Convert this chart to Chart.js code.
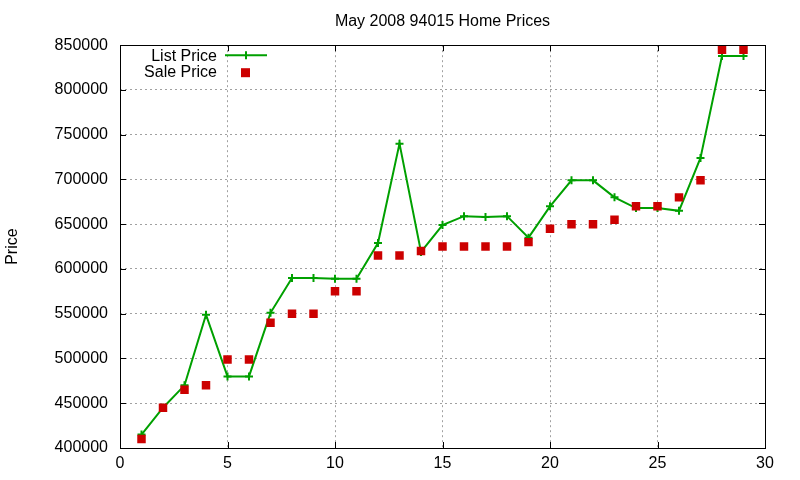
<!DOCTYPE html>
<html>
<head>
<meta charset="utf-8">
<title>May 2008 94015 Home Prices</title>
<script src="https://cdn.jsdelivr.net/npm/chart.js@4/dist/chart.umd.min.js"></script>
<style>
  html, body { margin: 0; padding: 0; background: #fff; }
  #wrap { width: 800px; height: 480px; }
</style>
</head>
<body>
<div id="wrap"><canvas id="myCanvas" width="800" height="480"></canvas></div>
<script>
// data
var houseNum = [1, 2, 3, 4, 5, 6, 7, 8, 9, 10, 11, 12, 13, 14, 15, 16, 17, 18, 19, 20, 21, 22, 23, 24, 25, 26, 27, 28, 29];
var listPrice = [415000, 445000, 470000, 549000, 480000, 480000, 551000, 590000, 590000, 589000,
                 589000, 629000, 740000, 619000, 649000, 659000, 658000, 659000, 635000, 670000,
                 699000, 699000, 680000, 668000, 668000, 665000, 724000, 838000, 838000];
var salePrice = [410000, 445000, 465000, 470000, 499000, 499000, 540000, 550000, 550000, 575000,
                 575000, 615000, 615000, 620000, 625000, 625000, 625000, 625000, 630000, 645000,
                 650000, 650000, 655000, 670000, 670000, 680000, 699000, 845000, 845000];
var seriesNames = ["List Price", "Sale Price"];
var chartTitle = "May 2008 94015 Home Prices";
var yTitle = "Price";

var FONT = "'Liberation Sans', Arial, sans-serif";
var MIDA = 16;
var verd = "#00a000";
var vermell = "#cc0000";

function punts(xs, ys) {
    var r = [];
    for (var i = 0; i < xs.length; i++) {
        r.push({ x: xs[i], y: ys[i] });
    }
    return r;
}

// frame, inward ticks (gnuplot style) and the key inside the plot
var marcPlugin = {
    id: "marc",
    afterDraw: function (chart) {
        var ctx = chart.ctx;
        var a = chart.chartArea;
        var sx = chart.scales.x, sy = chart.scales.y;
        var tl = 6;
        ctx.save();
        ctx.strokeStyle = "#000";
        ctx.lineWidth = 1;
        ctx.setLineDash([]);
        ctx.beginPath();
        sx.ticks.forEach(function (t) {
            var px = Math.round(sx.getPixelForValue(t.value)) + 0.5;
            ctx.moveTo(px, a.bottom); ctx.lineTo(px, a.bottom - tl);
            ctx.moveTo(px, a.top); ctx.lineTo(px, a.top + tl);
        });
        sy.ticks.forEach(function (t) {
            var py = Math.round(sy.getPixelForValue(t.value)) + 0.5;
            ctx.moveTo(a.left, py); ctx.lineTo(a.left + tl, py);
            ctx.moveTo(a.right, py); ctx.lineTo(a.right - tl, py);
        });
        ctx.stroke();
        ctx.strokeRect(Math.round(a.left) + 0.5, Math.round(a.top) + 0.5,
                       Math.round(a.right - a.left), Math.round(a.bottom - a.top));

        // key
        var kx = a.left + 97;
        var ky = a.top + 10;
        ctx.font = MIDA + "px " + FONT;
        ctx.fillStyle = "#000";
        ctx.textAlign = "right";
        ctx.textBaseline = "middle";
        ctx.fillText(seriesNames[0], kx, ky + 1);
        ctx.fillText(seriesNames[1], kx, ky + 17);

        ctx.strokeStyle = verd;
        ctx.lineWidth = 2;
        ctx.beginPath();
        ctx.moveTo(kx + 8, ky); ctx.lineTo(kx + 50, ky);
        ctx.moveTo(kx + 29, ky - 4); ctx.lineTo(kx + 29, ky + 4);
        ctx.stroke();
        ctx.fillStyle = vermell;
        ctx.fillRect(kx + 24, ky + 13, 9, 9);
        ctx.restore();
    }
};

var ctx = document.getElementById("myCanvas");

var grafica = new Chart(ctx, {
    type: "scatter",
    data: {
        datasets: [{
            label: seriesNames[0],
            data: punts(houseNum, listPrice),
            showLine: true,
            borderColor: verd,
            backgroundColor: verd,
            borderWidth: 2,
            tension: 0,
            pointStyle: "cross",
            pointRadius: 4,
            pointBorderWidth: 2,
            pointBorderColor: verd,
            order: 2
        }, {
            label: seriesNames[1],
            data: punts(houseNum, salePrice),
            showLine: false,
            pointStyle: "rect",
            pointRadius: 6,
            pointBorderWidth: 0,
            backgroundColor: vermell,
            borderColor: vermell,
            order: 1
        }]
    },
    options: {
        responsive: false,
        animation: false,
        events: [],
        layout: { padding: { left: 0, right: 35, top: 0, bottom: 0 } },
        plugins: {
            legend: { display: false },
            tooltip: { enabled: false },
            title: {
                display: true,
                text: chartTitle,
                fullSize: false,
                color: "#000",
                font: { family: FONT, size: MIDA, weight: "normal" },
                padding: { top: 12, bottom: 14 }
            }
        },
        scales: {
            x: {
                type: "linear",
                min: 0,
                max: 30,
                ticks: {
                    stepSize: 5,
                    color: "#000",
                    padding: 6,
                    maxRotation: 0,
                    font: { family: FONT, size: MIDA }
                },
                grid: { color: "#a0a0a0", lineWidth: 1, drawTicks: false },
                border: { display: false, dash: [2, 3] },
                afterFit: function (s) { s.height = 32; }
            },
            y: {
                min: 400000,
                max: 850000,
                ticks: {
                    stepSize: 50000,
                    color: "#000",
                    padding: 12,
                    font: { family: FONT, size: MIDA },
                    callback: function (v) { return String(v); }
                },
                title: {
                    display: true,
                    text: yTitle,
                    color: "#000",
                    font: { family: FONT, size: MIDA },
                    padding: { top: 3, bottom: 0 }
                },
                grid: { color: "#a0a0a0", lineWidth: 1, drawTicks: false },
                border: { display: false, dash: [2, 3] },
                afterFit: function (s) { s.width = 120; }
            }
        }
    },
    plugins: [marcPlugin]
});
</script>
</body>
</html>
